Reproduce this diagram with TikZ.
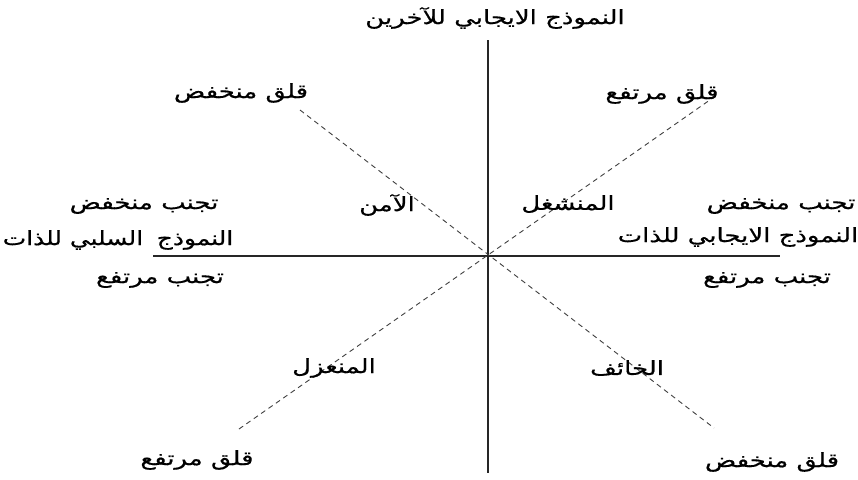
\documentclass[tikz,border=0pt]{standalone}
\usepackage{fontspec}
\newfontfamily\arabicfont[Script=Arabic,FakeStretch=1.33,FakeBold=0.6]{DejaVu Sans}
\TeXXeTstate=1
\begin{document}
\begin{tikzpicture}[x=1pt,y=-1pt,
  lbl/.style={font=\arabicfont\fontsize{19.5}{22}\selectfont, inner sep=0pt, anchor=center},
  axis/.style={draw=black!85, line width=1.3pt},
  diag/.style={draw=black!75, line width=0.9pt, dash pattern=on 5pt off 4pt}]
\useasboundingbox (0,0) rectangle (858,479);
\fill[white] (0,0) rectangle (858,479);
% axes
\coordinate (top) at (488,40);
\coordinate (bot) at (488,473);
\coordinate (lft) at (153,256);
\coordinate (rgt) at (780,256);
\coordinate (ne) at (717,95);
\coordinate (sw) at (239,429);
\coordinate (nw) at (300,110);
\coordinate (se) at (714,428);
\draw[axis] (top) -- (bot);
\draw[axis] (lft) -- (rgt);
\draw[diag] (sw) -- (ne);
\draw[diag] (nw) -- (se);
% labels
\node[lbl] (title) at (495,18) {\beginR النموذج الايجابي للآخرين\endR};
\node[lbl] (qlow1) at (241,93) {\beginR قلق منخفض\endR};
\node[lbl] (qhigh1) at (662,94) {\beginR قلق مرتفع\endR};
\node[lbl] (secure) at (387,205) {\beginR الآمن\endR};
\node[lbl] (preocc) at (568,204) {\beginR المنشغل\endR};
\node[lbl] (alow1) at (144,206) {\beginR تجنب منخفض\endR};
\node[lbl] (alow2) at (781,206) {\beginR تجنب منخفض\endR};
\node[lbl] (negself) at (118,240) {\scalebox{0.96}[1]{\beginR النموذج\hspace{6pt} السلبي للذات\endR}};
\node[lbl] (posself) at (738,237) {\beginR النموذج الايجابي للذات\endR};
\node[lbl] (ahigh1) at (160,280) {\beginR تجنب مرتفع\endR};
\node[lbl] (ahigh2) at (767,280) {\beginR تجنب مرتفع\endR};
\node[lbl] (dismiss) at (334,368) {\beginR المنعزل\endR};
\node[lbl] (fearful) at (627,368) {\beginR الخائف\endR};
\node[lbl] (qhigh2) at (197,460) {\beginR قلق مرتفع\endR};
\node[lbl] (qlow2) at (772,462) {\beginR قلق منخفض\endR};
\end{tikzpicture}
\end{document}
